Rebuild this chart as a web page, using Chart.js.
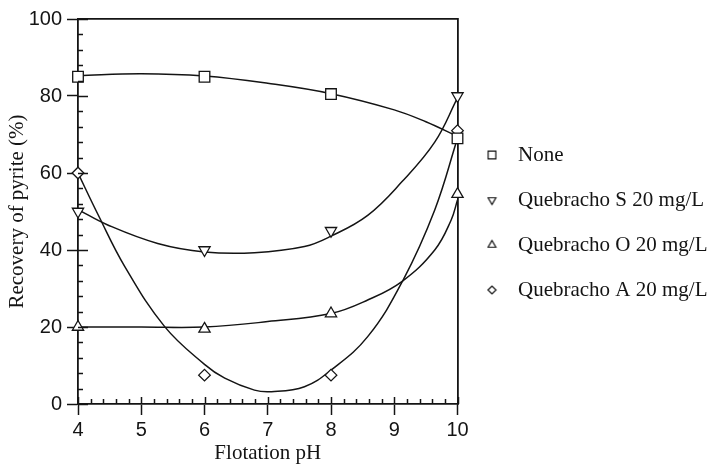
<!DOCTYPE html>
<html>
<head>
<meta charset="utf-8">
<script src="https://cdn.jsdelivr.net/npm/chart.js@4/dist/chart.umd.min.js"></script>
<style>
html,body{margin:0;padding:0;background:#fff;}
#wrap{width:709px;height:466px;}
</style>
</head>
<body>
<div id="wrap"><canvas id="c" width="709" height="466"></canvas></div>
<script>
// ---------- data ----------
const seriesNames = ['None', 'Quebracho S 20 mg/L', 'Quebracho O 20 mg/L', 'Quebracho A 20 mg/L'];
const phPoints = [4, 6, 8, 10];
const noneVals = [85, 85, 80.5, 69];
const sVals    = [50, 40, 45, 80];
const oVals    = [20, 19.5, 23.5, 54.5];
const aVals    = [60, 7.5, 7.5, 71];

// fitted curves
const noneCurvePh   = [4, 5, 6, 7, 8, 9, 9.5, 10];
const noneCurveVals = [85.3, 85.8, 85.2, 83.3, 80.6, 76.4, 73.3, 69.5];
const sCurvePh      = [4, 4.47, 5.26, 6, 6.79, 7.58, 8, 8.58, 9.12, 9.64, 10];
const sCurveVals    = [50.5, 46.5, 41.7, 39.5, 39.3, 40.9, 43.6, 49, 57.7, 68, 79.5];
const oCurvePh      = [4, 5, 6, 7, 8, 8.58, 9.12, 9.64, 9.9, 10];
const oCurveVals    = [20, 20, 20, 21.4, 23.5, 27, 31.8, 40, 47.8, 53];
const aCurvePh      = [4, 4.32, 4.74, 5.37, 6, 6.32, 6.79, 7.06, 7.58, 8, 8.58, 9.14, 9.64, 10];
const aCurveVals    = [60, 49.1, 35.7, 20.1, 10.3, 6.7, 3.6, 3.2, 4.5, 8.8, 17.5, 32.2, 50.4, 69];

const xTickValues = [4, 5, 6, 7, 8, 9, 10];
const yTickValues = [0, 20, 40, 60, 80, 100];
const xTitle = 'Flotation pH';
const yTitle = 'Recovery of pyrite (%)';

// ---------- styling ----------
const INK = '#141414';
const markerStyles = [
  {pointStyle: 'rect', radius: 7.5, rotation: 0, legendRadius: 5.5},
  {pointStyle: 'triangle', radius: 6.5, rotation: 180, legendRadius: 4.5},
  {pointStyle: 'triangle', radius: 6.5, rotation: 0, legendRadius: 4.5},
  {pointStyle: 'rectRot', radius: 5.8, rotation: 0, legendRadius: 4}
];
const pointSets = [noneVals, sVals, oVals, aVals];
const curveSets = [[noneCurvePh, noneCurveVals], [sCurvePh, sCurveVals], [oCurvePh, oCurveVals], [aCurvePh, aCurveVals]];

function toXY(xs, ys) { return xs.map((x, i) => ({x: x, y: ys[i]})); }

function legendIcon(st) {
  const c = document.createElement('canvas');
  c.width = 16; c.height = 16;
  const g = c.getContext('2d');
  g.fillStyle = '#fff'; g.strokeStyle = INK; g.lineWidth = 1.2;
  Chart.helpers.drawPoint(g, {pointStyle: st.pointStyle, radius: st.legendRadius, rotation: st.rotation, borderWidth: 1.2}, 5.5, 8);
  return c;
}

const datasets = [];
curveSets.forEach((cs, i) => {
  datasets.push({
    label: seriesNames[i] + ' fit',
    data: toXY(cs[0], cs[1]),
    borderColor: INK, borderWidth: 1.5,
    pointRadius: 0, pointHoverRadius: 0,
    tension: 0.4,
    fill: false, order: 1
  });
});
pointSets.forEach((vals, i) => {
  const st = markerStyles[i];
  datasets.push({
    label: seriesNames[i],
    data: toXY(phPoints, vals),
    showLine: false,
    pointStyle: st.pointStyle, pointRadius: st.radius, pointHoverRadius: st.radius,
    rotation: st.rotation,
    pointBackgroundColor: '#fff', pointBorderColor: INK, pointBorderWidth: 1.3,
    clip: false, order: 0
  });
});

const innerTicks = {
  id: 'innerTicks',
  afterDraw(chart) {
    const {ctx, chartArea: ca, scales} = chart;
    const xs = scales.x, ys = scales.y;
    ctx.save();
    ctx.strokeStyle = INK; ctx.lineWidth = 1.5;
    ctx.beginPath();
    for (let v = 0; v <= 100; v += 4) {
      const py = Math.round(ys.getPixelForValue(v)) + 0.5;
      const len = (v % 20 === 0) ? 10 : 5;
      ctx.moveTo(ca.left, py); ctx.lineTo(ca.left + len, py);
    }
    for (let k = 0; k <= 30; k++) {
      const v = 4 + k * 0.2;
      const px = Math.round(xs.getPixelForValue(v)) + 0.5;
      const len = (k % 5 === 0) ? 7 : 5;
      ctx.moveTo(px, ca.bottom); ctx.lineTo(px, ca.bottom - len);
    }
    ctx.stroke();
    ctx.restore();
  }
};

Chart.defaults.color = INK;

new Chart(document.getElementById('c'), {
  type: 'line',
  data: {datasets: datasets},
  plugins: [innerTicks],
  options: {
    responsive: false,
    devicePixelRatio: 1,
    animation: false,
    events: [],
    layout: {padding: {top: 19, right: 0, bottom: 0, left: 0}},
    scales: {
      x: {
        type: 'linear', position: 'bottom', min: 4, max: 10,
        afterBuildTicks(scale) { scale.ticks = xTickValues.map(v => ({value: v})); },
        afterFit(scale) { scale.height = 62; },
        ticks: {font: {family: 'Liberation Sans', size: 20}, color: INK, padding: 3, maxRotation: 0},
        grid: {display: true, drawOnChartArea: false, drawTicks: true, tickLength: 11, tickWidth: 1.5, tickColor: INK},
        border: {display: true, color: INK, width: 1.8},
        title: {display: true, text: xTitle, font: {family: 'Liberation Serif', size: 21}, color: INK, padding: {top: 0, bottom: 0}}
      },
      y: {
        type: 'linear', position: 'left', min: 0, max: 100,
        afterBuildTicks(scale) { scale.ticks = yTickValues.map(v => ({value: v})); },
        afterFit(scale) { scale.width = 78; },
        ticks: {font: {family: 'Liberation Sans', size: 20}, color: INK, padding: 5},
        grid: {display: true, drawOnChartArea: false, drawTicks: true, tickLength: 11, tickWidth: 1.5, tickColor: INK},
        border: {display: true, color: INK, width: 1.8},
        title: {display: true, text: yTitle, font: {family: 'Liberation Serif', size: 21}, color: INK, padding: {top: 5, bottom: 0}}
      },
      x2: {
        type: 'linear', position: 'top', min: 4, max: 10,
        ticks: {display: false},
        grid: {display: false, drawTicks: false},
        border: {display: true, color: INK, width: 1.8}
      },
      y2: {
        type: 'linear', position: 'right', min: 0, max: 100,
        ticks: {display: false},
        grid: {display: false, drawTicks: false},
        border: {display: true, color: INK, width: 1.8}
      }
    },
    plugins: {
      tooltip: {enabled: false},
      legend: {
        display: true, position: 'right', align: 'center', fullSize: false,
        maxWidth: 251.5,
        title: {display: true, text: ' ', padding: {top: 5, bottom: 5}, font: {size: 10}},
        labels: {
          usePointStyle: true, pointStyleWidth: 26, padding: 24,
          font: {family: 'Liberation Serif', size: 21}, color: INK,
          generateLabels(chart) {
            return seriesNames.map((name, i) => ({
              text: name,
              pointStyle: legendIcon(markerStyles[i]),
              fillStyle: '#fff', strokeStyle: INK, lineWidth: 0,
              fontColor: INK, hidden: false, datasetIndex: 4 + i
            }));
          }
        }
      }
    }
  }
});
</script>
</body>
</html>
